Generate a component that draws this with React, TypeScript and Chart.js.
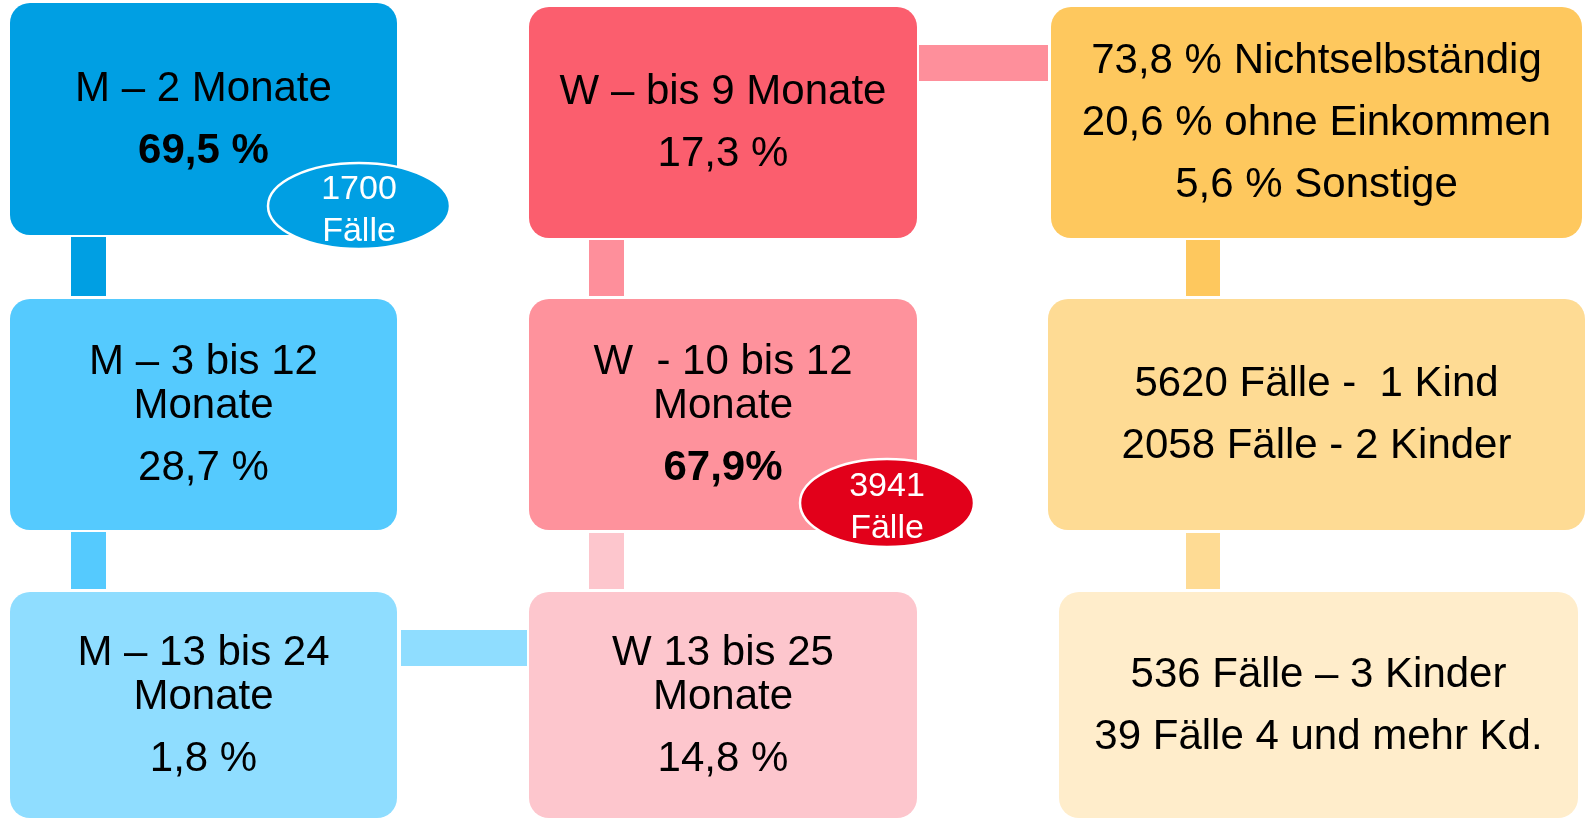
import React, { useEffect, useRef } from "react";
import { Chart, registerables } from "chart.js";

Chart.register(...registerables);

// ---------- content (data) ----------
const maleHeads: string[][] = [["M – 2 Monate"], ["M – 3 bis 12", "Monate"], ["M – 13 bis 24", "Monate"]];
const maleShares: string[] = ["69,5 %", "28,7 %", "1,8 %"];
const femaleHeads: string[][] = [["W – bis 9 Monate"], ["W  - 10 bis 12", "Monate"], ["W 13 bis 25", "Monate"]];
const femaleShares: string[] = ["17,3 %", "67,9%", "14,8 %"];
const incomeLines: string[] = ["73,8 % Nichtselbständig", "20,6 % ohne Einkommen", "5,6 % Sonstige"];
const childLinesA: string[] = ["5620 Fälle -  1 Kind", "2058 Fälle - 2 Kinder"];
const childLinesB: string[] = ["536 Fälle – 3 Kinder", "39 Fälle 4 und mehr Kd."];
const caseCounts: string[] = ["1700", "3941"];
const caseWord = "Fälle";

// ---------- layout / styles (kept separate from content) ----------
const FONT = '"Liberation Sans", Arial, Helvetica, sans-serif';
const TEXT_SIZE = 42;
const WRAP_GAP = 44;
const PARA_GAP = 62;
const BOX_RADIUS = 20;

type Box = { l: number; r: number; t: number; b: number; color: string; paras: string[][]; boldLast?: boolean };

const boxes: Box[] = [
  { l: 10, r: 397, t: 3, b: 235, color: "#009FE3", paras: [maleHeads[0], [maleShares[0]]], boldLast: true },
  { l: 10, r: 397, t: 299, b: 530, color: "#55CAFE", paras: [maleHeads[1], [maleShares[1]]] },
  { l: 10, r: 397, t: 592, b: 818, color: "#8FDDFF", paras: [maleHeads[2], [maleShares[2]]] },
  { l: 529, r: 917, t: 7, b: 238, color: "#FB5E6E", paras: [femaleHeads[0], [femaleShares[0]]] },
  { l: 529, r: 917, t: 299, b: 530, color: "#FE929C", paras: [femaleHeads[1], [femaleShares[1]]], boldLast: true },
  { l: 529, r: 917, t: 592, b: 818, color: "#FDC6CD", paras: [femaleHeads[2], [femaleShares[2]]] },
  { l: 1051, r: 1582, t: 7, b: 238, color: "#FEC85E", paras: incomeLines.map((s) => [s]) },
  { l: 1048, r: 1585, t: 299, b: 530, color: "#FEDB94", paras: childLinesA.map((s) => [s]) },
  { l: 1059, r: 1578, t: 592, b: 818, color: "#FFEDCB", paras: childLinesB.map((s) => [s]) },
];

type Conn = { l: number; r: number; t: number; b: number; color: string };
const connectors: Conn[] = [
  { l: 71, r: 106, t: 237, b: 296, color: "#009FE3" },
  { l: 71, r: 106, t: 532, b: 589, color: "#55CAFE" },
  { l: 589, r: 624, t: 240, b: 296, color: "#FE8F9B" },
  { l: 589, r: 624, t: 533, b: 589, color: "#FDC6CD" },
  { l: 1186, r: 1220, t: 240, b: 296, color: "#FEC85E" },
  { l: 1186, r: 1220, t: 533, b: 589, color: "#FEDB94" },
  { l: 919, r: 1048, t: 45, b: 81, color: "#FE8F9B" },
  { l: 401, r: 527, t: 630, b: 666, color: "#8FDDFF" },
];

const badges = [
  { cx: 359, cy: 206, rx: 91, ry: 43, color: "#009FE3", text: [caseCounts[0], caseWord] },
  { cx: 887, cy: 503, rx: 87, ry: 44, color: "#E2001A", text: [caseCounts[1], caseWord] },
];

const overlayPlugin = {
  id: "overlay",
  afterDatasetsDraw(chart: any) {
    const ctx = chart.ctx as CanvasRenderingContext2D;
    const xs = chart.scales.x;
    const ys = chart.scales.y;
    ctx.save();
    ctx.textAlign = "center";
    ctx.textBaseline = "alphabetic";
    // box texts
    boxes.forEach((bx) => {
      const lines: { text: string; off: number; bold: boolean }[] = [];
      let pos = 0;
      bx.paras.forEach((p, pi) => {
        p.forEach((ln, li) => {
          if (pi > 0 && li === 0) pos += PARA_GAP;
          else if (li > 0) pos += WRAP_GAP;
          lines.push({ text: ln, off: pos, bold: !!bx.boldLast && pi === bx.paras.length - 1 });
        });
      });
      const total = pos;
      const cx = xs.getPixelForValue((bx.l + bx.r) / 2);
      const cy = ys.getPixelForValue((bx.t + bx.b) / 2);
      ctx.fillStyle = "#000";
      lines.forEach((ln) => {
        ctx.font = `${ln.bold ? "bold " : ""}${TEXT_SIZE}px ${FONT}`;
        const y = cy - total / 2 + ln.off + TEXT_SIZE * 0.3;
        ctx.fillText(ln.text, cx, y);
      });
    });
    // badges
    badges.forEach((bg) => {
      const cx = xs.getPixelForValue(bg.cx);
      const cy = ys.getPixelForValue(bg.cy);
      const rx = xs.getPixelForValue(bg.cx + bg.rx) - cx;
      const ry = ys.getPixelForValue(bg.cy + bg.ry) - cy;
      ctx.beginPath();
      ctx.ellipse(cx, cy, Math.abs(rx), Math.abs(ry), 0, 0, Math.PI * 2);
      ctx.fillStyle = bg.color;
      ctx.fill();
      ctx.lineWidth = 2.5;
      ctx.strokeStyle = "#FFFFFF";
      ctx.stroke();
      ctx.fillStyle = "#FFFFFF";
      ctx.font = `34px ${FONT}`;
      ctx.fillText(bg.text[0], cx, cy - 21 + 4 + 10);
      ctx.fillText(bg.text[1], cx, cy + 21 + 4 + 10);
    });
    ctx.restore();
  },
};

export default function App() {
  const ref = useRef<HTMLCanvasElement | null>(null);
  useEffect(() => {
    if (!ref.current) return;
    const mk = (r: { l: number; r: number; t: number; b: number; color: string }, radius: number) => ({
      type: "bar" as const,
      data: [{ x: (r.l + r.r) / 2, y: [r.t, r.b] }],
      backgroundColor: r.color,
      borderWidth: 0,
      barThickness: r.r - r.l,
      borderRadius: radius,
      borderSkipped: false,
      stack: "all",
      clip: false as any,
      inflateAmount: 0,
    });
    const datasets: any[] = [
      ...boxes.map((b) => mk(b, BOX_RADIUS)),
      ...connectors.map((c) => mk(c, 0)),
    ];
    const chart = new Chart(ref.current, {
      type: "bar",
      data: { datasets },
      options: {
        responsive: false,
        animation: false,
        devicePixelRatio: 1,
        events: [],
        layout: { padding: 0 },
        plugins: { legend: { display: false }, tooltip: { enabled: false } },
        scales: {
          x: { type: "linear", min: 0, max: 1585, offset: false, display: false, grid: { offset: false } },
          y: { type: "linear", min: 0, max: 820, reverse: true, display: false, stacked: false },
        },
      } as any,
      plugins: [overlayPlugin],
    });
    return () => chart.destroy();
  }, []);
  return (
    <div style={{ position: "fixed", left: 0, top: 0, width: 1585, height: 820, background: "#fff" }}>
      <canvas ref={ref} width={1585} height={820} style={{ display: "block", width: 1585, height: 820 }} />
    </div>
  );
}
